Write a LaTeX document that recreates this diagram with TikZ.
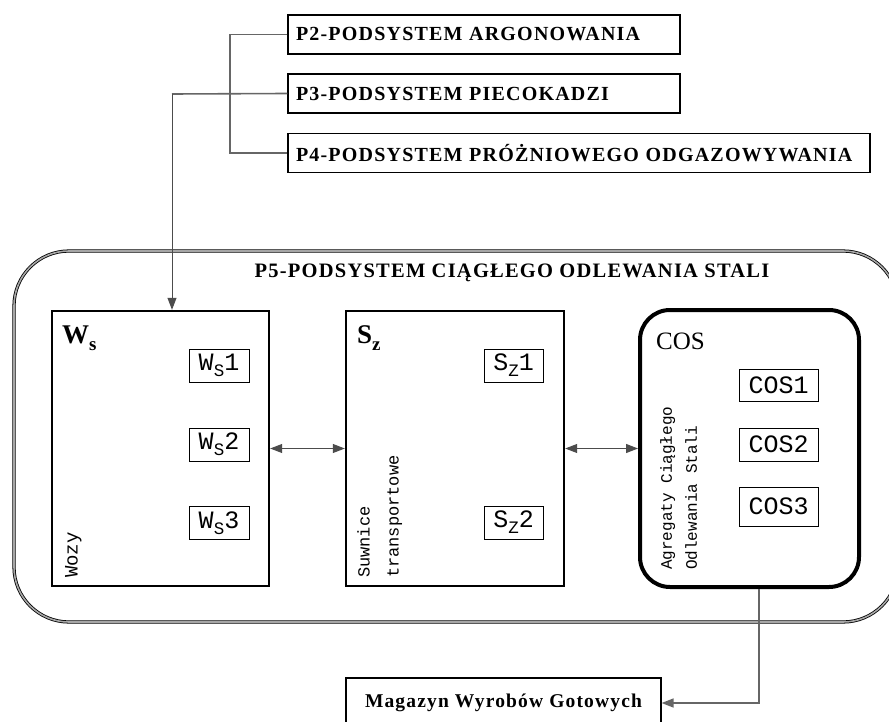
\documentclass[tikz,border=0pt]{standalone}
\usepackage{fontspec}
\setmainfont{Liberation Serif}
\newfontfamily\monof{Liberation Mono}
\newfontfamily\spacedf[LetterSpace=6]{Liberation Serif}
\usetikzlibrary{arrows.meta}
\newcommand{\sub}[1]{\raisebox{-0.25em}{\scalebox{0.7}{#1}}}
\begin{document}
\begin{tikzpicture}[x=1pt,y=-1pt,
  topbox/.style={draw, line width=1.3pt, minimum height=39pt, inner sep=0pt, inner xsep=8pt, align=left,
     font=\spacedf\fontsize{20}{20}\selectfont\bfseries},
  bigbox/.style={draw, line width=2.4pt, minimum width=217pt, minimum height=275pt, inner sep=0pt},
  cosbox/.style={draw, line width=4pt, rounded corners=30pt, minimum width=217pt, minimum height=275pt, inner sep=0pt},
  smallbox/.style={draw, line width=1pt, inner sep=0pt, font=\monof\fontsize{25}{25}\selectfont},
  hdr/.style={anchor=west, inner sep=0pt, font=\fontsize{27}{27}\selectfont\bfseries},
  rot/.style={rotate=90, anchor=north west, inner sep=0pt, align=left},
  conn/.style={draw=black!60, line width=1.6pt},
  tip/.style={-{Triangle[length=12pt,width=9pt]}},
  dtip/.style={{Triangle[length=12pt,width=9pt]}-{Triangle[length=12pt,width=9pt]}},
  thin/.style={draw=black!70, line width=1pt}
]
\useasboundingbox (0,0) rectangle (889,722);
\fill[white] (0,0) rectangle (889,722);

% top boxes
\node[topbox, text width=376pt] (p2) at (484,34.5) {P2-PODSYSTEM ARGONOWANIA};
\node[topbox, text width=376pt] (p3) at (484,93.5) {P3-PODSYSTEM PIECOKADZI};
\node[topbox, text width=566pt] (p4) at (579,153) {P4-PODSYSTEM PRÓŻNIOWEGO ODGAZOWYWANIA};

% P5 container
\node[draw=black, double=black!35, double distance=1.6pt, line width=0.8pt, rounded corners=55pt,
      minimum width=884pt, minimum height=371pt, inner sep=0pt] (p5) at (456,436.5) {};
\node[inner sep=0pt, font=\spacedf\fontsize{20.5}{20.5}\selectfont\bfseries] (p5t) at (512,273) {P5-PODSYSTEM CIĄGŁEGO ODLEWANIA STALI};

% main boxes
\node[bigbox] (ws) at (160.5,448.5) {};
\node[bigbox, minimum width=218pt] (sz) at (455,448.5) {};
\node[cosbox, minimum width=219pt, minimum height=277pt] (cos) at (749.5,448.5) {};

\node[hdr] (wsh) at (62,338) {W\sub{s}};
\node[hdr] (szh) at (357,338) {S\sub{z}};
\node[hdr, font=\fontsize{25}{25}\selectfont] (cosh) at (656,341) {COS};

% inner boxes
\node[smallbox, minimum width=60pt, minimum height=33pt] (ws1) at (219,365.5) {W\sub{S}1};
\node[smallbox, minimum width=60pt, minimum height=33pt] (ws2) at (219,444.5) {W\sub{S}2};
\node[smallbox, minimum width=60pt, minimum height=33pt] (ws3) at (219,523) {W\sub{S}3};
\node[smallbox, minimum width=59pt, minimum height=33pt] (sz1) at (513.5,365.5) {S\sub{Z}1};
\node[smallbox, minimum width=59pt, minimum height=33pt] (sz2) at (513.5,522.5) {S\sub{Z}2};
\node[smallbox, minimum width=79pt, minimum height=32pt] (cos1) at (778.5,385) {COS1};
\node[smallbox, minimum width=79pt, minimum height=33pt] (cos2) at (778.5,444.5) {COS2};
\node[smallbox, minimum width=79pt, minimum height=39pt] (cos3) at (778.5,506.5) {COS3};

% rotated labels
\node[rot, font=\monof\fontsize{19}{19}\selectfont] (wozy) at (65,578) {Wozy};
\node[rot, font=\monof\fontsize{17}{29}\selectfont] (suw) at (357,578) {Suwnice\\transportowe};
\node[rot, font=\monof\fontsize{16}{25}\selectfont] (agr) at (660,570) {Agregaty Ciągłego\\Odlewania Stali};

% magazyn
\node[draw, line width=1.2pt, minimum width=315pt, minimum height=50pt, inner sep=0pt,
      font=\spacedf\fontsize{19.5}{19.5}\selectfont\bfseries] (mag) at (503.5,703) {Magazyn Wyrobów Gotowych};

% connectors
\coordinate (brx) at (230,0);
\coordinate (t3) at (172,94);
\coordinate (cx) at (759,0);
\draw[conn] (p2.west) -- (p2.west -| brx) |- (p4.west);
\draw[conn] (p3.west) -- (t3);
\draw[thin, tip] (t3) -- (t3 |- ws.north);
\draw[thin, dtip] (ws.east) -- (sz.west);
\draw[thin, dtip] (sz.east) -- (cos.west);
\draw[conn, tip] (cos.south -| cx) |- (mag.east);
\end{tikzpicture}
\end{document}
